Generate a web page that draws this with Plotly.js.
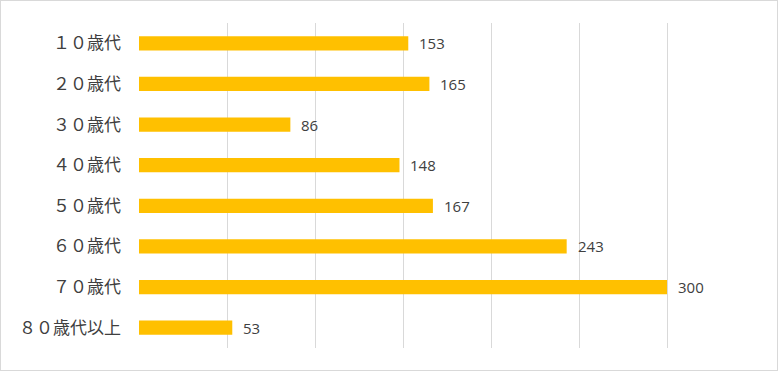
<!DOCTYPE html>
<html>
<head>
<meta charset="utf-8">
<script src="https://cdn.plot.ly/plotly-3.0.1.min.js"></script>
<style>
html,body{margin:0;padding:0;background:#fff;}
#chart{width:776px;height:369px;border:1px solid #d9d9d9;}
</style>
</head>
<body>
<div id="chart"></div>
<script>
const categories = ["１０歳代","２０歳代","３０歳代","４０歳代","５０歳代","６０歳代","７０歳代","８０歳代以上"];
const counts = [153,165,86,148,167,243,300,53];

const trace = {
  type: 'bar',
  orientation: 'h',
  y: categories,
  x: counts,
  width: 0.35,
  marker: {color: '#FFC000'},
  hoverinfo: 'none'
};

const annotations = categories.map((c, i) => ({
  x: counts[i], y: c, xref: 'x', yref: 'y',
  text: String(counts[i]), showarrow: false,
  xanchor: 'left', yanchor: 'middle', xshift: 9, yshift: 0,
  font: {family: 'Open Sans, Noto Sans, sans-serif', size: 15, color: '#404040'}
}));

const layout = {
  width: 776, height: 369,
  margin: {l: 138, r: 22, t: 22, b: 22},
  paper_bgcolor: '#fff', plot_bgcolor: '#fff',
  showlegend: false,
  xaxis: {
    range: [0, 350], dtick: 50, tick0: 0,
    showgrid: true, gridcolor: '#d9d9d9', gridwidth: 1,
    zeroline: false, showticklabels: false, showline: false, fixedrange: true
  },
  yaxis: {
    type: 'category', autorange: 'reversed',
    showgrid: false, zeroline: false, showline: false,
    ticks: '', ticklabelstandoff: 17,
    tickfont: {family: 'Noto Sans CJK JP, sans-serif', size: 17, color: '#404040'}
  },
  annotations: annotations
};

Plotly.newPlot('chart', [trace], layout, {displayModeBar: false, staticPlot: true});
</script>
</body>
</html>
